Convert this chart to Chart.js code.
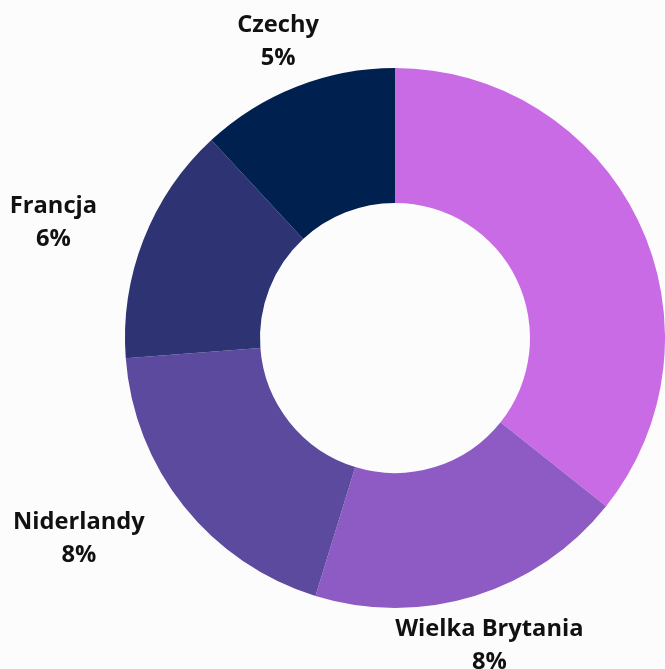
<!DOCTYPE html>
<html>
<head>
<meta charset="utf-8">
<script src="https://cdn.jsdelivr.net/npm/chart.js@4"></script>
<style>
  html, body { margin: 0; padding: 0; background: #fdfcfd; }
  #wrap { width: 665px; height: 669px; }
</style>
</head>
<body>
<div id="wrap"><canvas id="c" width="665" height="669"></canvas></div>
<script>
const categories = ['Niemcy', 'Wielka Brytania', 'Niderlandy', 'Francja', 'Czechy'];
const values = [15, 8, 8, 6, 5];
const percentLabels = ['15%', '8%', '8%', '6%', '5%'];
const colors = ['#c96be5', '#8e5bc4', '#5b4a9d', '#2e3373', '#002050'];

const outerLabels = {
  id: 'outerLabels',
  afterDatasetsDraw(chart) {
    const ctx = chart.ctx;
    const meta = chart.getDatasetMeta(0);
    ctx.save();
    ctx.font = 'bold 23.7px "Open Sans", "Noto Sans", sans-serif';
    ctx.fillStyle = '#111111';
    ctx.textBaseline = 'middle';
    ctx.textAlign = 'center';
    meta.data.forEach((arc, i) => {
      const p = arc.getProps(['x', 'y', 'startAngle', 'endAngle', 'outerRadius'], true);
      const mid = (p.startAngle + p.endAngle) / 2;
      const r = p.outerRadius + 50;
      const x = p.x + r * Math.cos(mid);
      const y = p.y + r * Math.sin(mid);
      const c = Math.cos(mid);
      const w = Math.max(ctx.measureText(categories[i]).width, ctx.measureText(percentLabels[i]).width);
      let cx = x;
      if (c > 0.5) cx = x + w / 2;
      else if (c < -0.5) cx = x - w / 2;
      if (cx - w / 2 > chart.width || cx + w / 2 < 0) return;
      ctx.fillText(categories[i], cx, y - 15);
      ctx.fillText(percentLabels[i], cx, y + 18);
    });
    ctx.restore();
  }
};

new Chart(document.getElementById('c'), {
  type: 'doughnut',
  data: {
    labels: categories,
    datasets: [{
      data: values,
      backgroundColor: colors,
      borderWidth: 0,
      hoverOffset: 0
    }]
  },
  options: {
    responsive: false,
    animation: false,
    cutout: '50%',
    layout: { padding: { left: 125, right: 0, top: 68, bottom: 61 } },
    plugins: {
      legend: { display: false },
      tooltip: { enabled: false }
    }
  },
  plugins: [outerLabels]
});
</script>
</body>
</html>
